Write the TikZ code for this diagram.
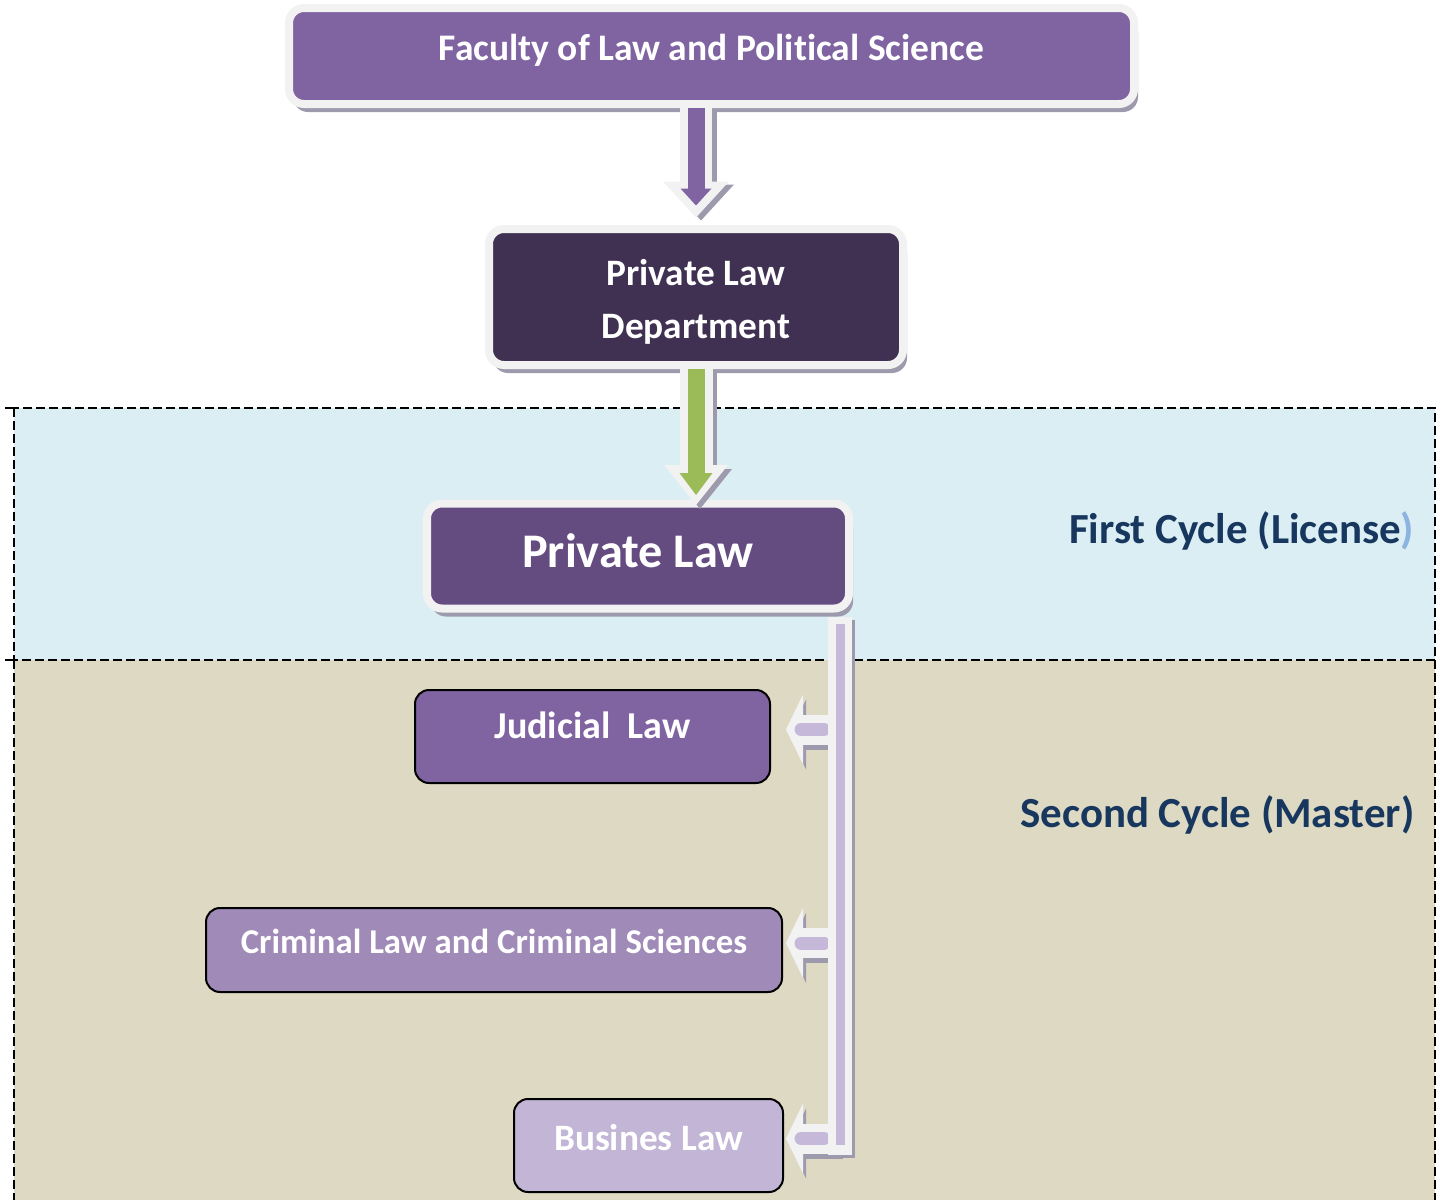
\documentclass[tikz,border=0pt]{standalone}
\usepackage{fontspec}
\setmainfont{Carlito}[Ligatures=NoCommon]
\usetikzlibrary{arrows.meta,shadows}

\definecolor{facultyviolet}{HTML}{8064A2}
\definecolor{deptviolet}{HTML}{403152}
\definecolor{lawviolet}{HTML}{644C80}
\definecolor{criminalviolet}{HTML}{9F8AB8}
\definecolor{businesviolet}{HTML}{C2B5D6}
\definecolor{barlilac}{HTML}{C5B8D8}
\definecolor{arrowgreen}{HTML}{9BBB59}
\definecolor{boxwhite}{HTML}{F2F2F2}
\definecolor{shadowgray}{HTML}{9E9AAE}
\definecolor{firstcycle}{HTML}{DAEEF3}
\definecolor{secondcycle}{HTML}{DDD9C3}
\definecolor{cycleblue}{HTML}{17375E}
\definecolor{parenblue}{HTML}{8DB3E2}

\tikzset{
  framebox/.style={rounded corners=15pt, draw=boxwhite, line width=8pt, text=white,
    drop shadow={shadow xshift=4pt,shadow yshift=-8pt,fill=shadowgray,opacity=1}},
  masterbox/.style={rounded corners=14pt, draw=black, line width=2pt, text=white,
    font=\bfseries\fontsize{34.8}{40}\selectfont, text height=21.9pt},
  cycleline/.style={black, line width=1.8pt, dash pattern=on 9pt off 4pt},
  cyclelabel/.style={text=cycleblue, inner sep=0pt, font=\bfseries\fontsize{42.9}{50}\selectfont}
}

\begin{document}
\begin{tikzpicture}[x=1pt,y=-1pt]
  \useasboundingbox (0,0) rectangle (1441,1200);
  % cycle bands
  \fill[firstcycle] (14,408) rectangle (1435,660);
  \fill[secondcycle] (14,660) rectangle (1435,1200);
  \draw[cycleline] (14,408) rectangle (1435,660);
  \draw[cycleline] (14,660) -- (14,1200);
  \draw[cycleline] (1435,660) -- (1435,1200);
  \draw[line width=1.8pt] (5,408) -- (14,408);
  \draw[line width=1.8pt] (5,660) -- (14,660);
  \node[cyclelabel, anchor=base east] (first) at (1414.5,543) {First Cycle (License{\color{parenblue})}};
  \node[cyclelabel, anchor=base east] (second) at (1414.5,827) {Second Cycle (Master)};

  % boxes
  \node[framebox, fill=facultyviolet, minimum width=845pt, minimum height=96pt,
    font=\bfseries\fontsize{37.5}{44}\selectfont, text height=23.6pt, text depth=14pt]
    (faculty) at (711.5,56) {Faculty of Law and Political Science};
  \node[framebox, fill=deptviolet, minimum width=414pt, minimum height=136pt,
    align=center, font=\bfseries\fontsize{37.3}{53}\selectfont, text height=92pt, text depth=10pt]
    (dept) at (696,297) {Private Law\\Department};
  \node[framebox, fill=lawviolet, minimum width=422pt, minimum height=105pt,
    font=\bfseries\fontsize{48.3}{56}\selectfont, text height=30.4pt, text depth=8pt]
    (privlaw) at (638,556) {Private Law};
  \node[masterbox, fill=facultyviolet, minimum width=355pt, minimum height=93pt,
    font=\bfseries\fontsize{38}{44}\selectfont, text height=24pt, text depth=20pt]
    (judicial) at (592.5,736.5) {Judicial\ \ Law};
  \node[masterbox, fill=criminalviolet, minimum width=576pt, minimum height=84pt, text depth=14pt]
    (criminal) at (494,950) {Criminal Law and Criminal Sciences};
  \node[masterbox, fill=businesviolet, minimum width=269pt, minimum height=93pt,
    font=\bfseries\fontsize{37.3}{44}\selectfont, text height=23.5pt, text depth=14pt]
    (busines) at (648.5,1145.5) {Busines Law};

  % faculty -> department
  \draw[shadowgray, line width=32pt, -{Triangle[width=66pt,length=36pt,line width=0pt]},
    shorten >=7.5pt, transform canvas={xshift=5pt,yshift=-3pt}] (faculty.south -| dept.north) -- (dept.north);
  \draw[boxwhite, line width=32pt, -{Triangle[width=66pt,length=36pt,line width=0pt]},
    shorten >=7.5pt] (faculty.south -| dept.north) -- (dept.north);
  \draw[facultyviolet, line width=17pt, -{Triangle[width=31pt,length=17pt,line width=0pt]},
    shorten >=19.5pt] (faculty.south -| dept.north) -- (dept.north);

  % department -> private law
  \draw[shadowgray, line width=33pt, -{Triangle[width=64pt,length=40pt,line width=0pt]},
    shorten >=-5.5pt, transform canvas={xshift=4pt,yshift=-4pt}] (dept.south) -- (dept.south |- privlaw.north);
  \draw[boxwhite, line width=33pt, -{Triangle[width=64pt,length=40pt,line width=0pt]},
    shorten >=-5.5pt] (dept.south) -- (dept.south |- privlaw.north);
  \draw[arrowgreen, line width=17pt, -{Triangle[width=33pt,length=22pt,line width=0pt]},
    shorten >=4.5pt] (dept.south) -- (dept.south |- privlaw.north);

  % private law -> masters
  \coordinate (bar) at (840,0);
  \coordinate (tip) at (786,0);
  \coordinate (barend) at (840,1155);
  \draw[shadowgray, line width=30pt, -{Triangle[width=70pt,length=17pt,line width=0pt]},
    transform canvas={xshift=3pt,yshift=2pt}] (bar |- judicial.east) -- (tip |- judicial.east);
  \draw[boxwhite, line width=30pt, -{Triangle[width=70pt,length=17pt,line width=0pt]},
    transform canvas={yshift=7pt}] (bar |- judicial.east) -- (tip |- judicial.east);
  \draw[barlilac, line width=13pt, line cap=round, shorten <=16pt, shorten >=15pt,
    transform canvas={yshift=7pt}] (bar |- judicial.east) -- (tip |- judicial.east);
  \draw[shadowgray, line width=30pt, -{Triangle[width=70pt,length=17pt,line width=0pt]},
    transform canvas={xshift=3pt,yshift=2pt}] (bar |- criminal.east) -- (tip |- criminal.east);
  \draw[boxwhite, line width=30pt, -{Triangle[width=70pt,length=17pt,line width=0pt]},
    transform canvas={yshift=7pt}] (bar |- criminal.east) -- (tip |- criminal.east);
  \draw[barlilac, line width=13pt, line cap=round, shorten <=16pt, shorten >=15pt,
    transform canvas={yshift=7pt}] (bar |- criminal.east) -- (tip |- criminal.east);
  \draw[shadowgray, line width=30pt, -{Triangle[width=70pt,length=17pt,line width=0pt]},
    transform canvas={xshift=3pt,yshift=2pt}] (bar |- busines.east) -- (tip |- busines.east);
  \draw[boxwhite, line width=30pt, -{Triangle[width=70pt,length=17pt,line width=0pt]},
    transform canvas={yshift=7pt}] (bar |- busines.east) -- (tip |- busines.east);
  \draw[barlilac, line width=13pt, line cap=round, shorten <=16pt, shorten >=15pt,
    transform canvas={yshift=7pt}] (bar |- busines.east) -- (tip |- busines.east);
  \draw[shadowgray, line width=24pt, shorten <=4.5pt,
    transform canvas={xshift=3pt,yshift=-3pt}] (bar |- privlaw.south) -- (barend);
  \draw[boxwhite, line width=24pt, shorten <=4.5pt] (bar |- privlaw.south) -- (barend);
  \draw[barlilac, line width=9pt, shorten <=11.5pt, shorten >=10pt] (bar |- privlaw.south) -- (barend);
\end{tikzpicture}
\end{document}
